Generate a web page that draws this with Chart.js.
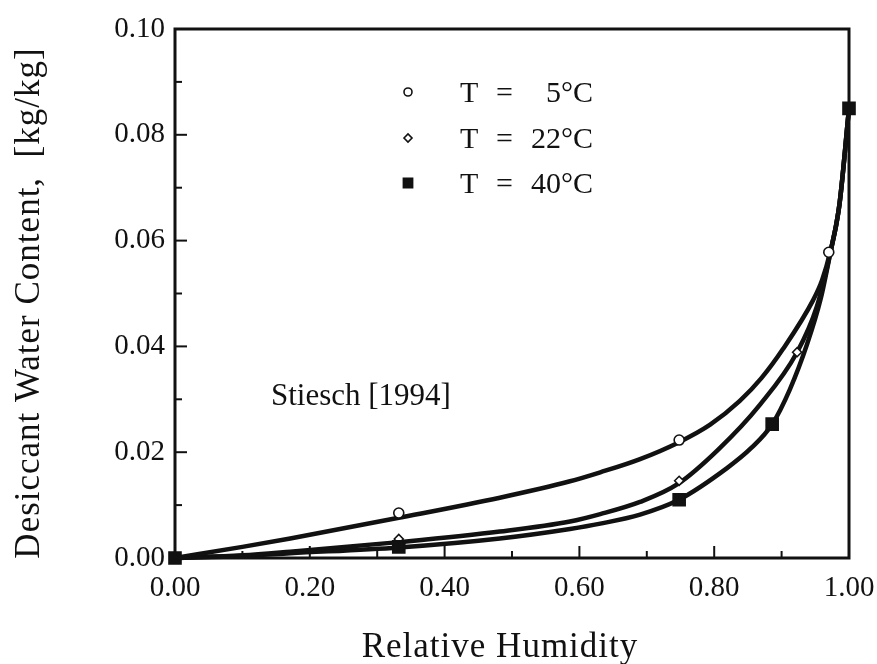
<!DOCTYPE html>
<html>
<head>
<meta charset="utf-8">
<script src="https://cdn.jsdelivr.net/npm/chart.js@4.4.0/dist/chart.umd.min.js"></script>
<style>
  html, body { margin: 0; background: #fff; }
</style>
</head>
<body>
<canvas id="isotherm" width="877" height="664"></canvas>
<script>
// ── measured points (relative humidity / water content kg/kg) ──
const rh5  = [0, 0.332, 0.748, 0.970, 1.0];
const wc5  = [0, 0.0085, 0.0223, 0.0578, 0.085];
const rh22 = [0, 0.332, 0.748, 0.923, 1.0];
const wc22 = [0, 0.0036, 0.0146, 0.0389, 0.085];
const rh40 = [0, 0.332, 0.748, 0.886, 1.0];
const wc40 = [0, 0.0021, 0.0110, 0.0253, 0.085];

// ── fitted isotherm curves ──
const fitRh5  = [0, 0.10, 0.171, 0.332, 0.482, 0.586, 0.631, 0.69, 0.748, 0.794, 0.838, 0.87, 0.902, 0.947, 0.96, 0.972, 0.985, 1.0];
const fitWc5  = [0, 0.0021, 0.0037, 0.0076, 0.0114, 0.0145, 0.0162, 0.0187, 0.0219, 0.0252, 0.0297, 0.0340, 0.0395, 0.0488, 0.0525, 0.0578, 0.0660, 0.085];
const fitRh22 = [0, 0.10, 0.171, 0.332, 0.482, 0.586, 0.631, 0.69, 0.745, 0.806, 0.868, 0.923, 0.952, 0.972, 0.986, 1.0];
const fitWc22 = [0, 0.0005, 0.0012, 0.0030, 0.0050, 0.0069, 0.0083, 0.0106, 0.0139, 0.0205, 0.0290, 0.0389, 0.0474, 0.0575, 0.0670, 0.085];
const fitRh40 = [0, 0.10, 0.171, 0.332, 0.482, 0.586, 0.631, 0.69, 0.746, 0.819, 0.855, 0.886, 0.912, 0.938, 0.958, 0.972, 0.986, 1.0];
const fitWc40 = [0, 0.0004, 0.0009, 0.0020, 0.0037, 0.0055, 0.0065, 0.0082, 0.0109, 0.0170, 0.0208, 0.0253, 0.0318, 0.0405, 0.0490, 0.0575, 0.0670, 0.085];

// ── text ──
const legendLabels = ['5°C', '22°C', '40°C'];
const legendStyles = ['circle', 'rectRot', 'rect'];
const sourceNote = 'Stiesch [1994]';
const xTitle = 'Relative Humidity';
const yTitle = 'Desiccant Water Content,  [kg/kg]';

const INK = '#111';
const FONT = '"Liberation Serif", "Times New Roman", serif';

const pairs = (xs, ys) => xs.map((x, i) => ({ x, y: ys[i] }));

function curve(xs, ys) {
  return {
    data: pairs(xs, ys),
    showLine: true,
    borderColor: INK,
    borderWidth: 4.5,
    pointRadius: 0,
    cubicInterpolationMode: 'monotone',
    clip: false,
    order: 10
  };
}

// lower order is painted last, so squares end up on top
function markers(xs, ys, style, radius, fill, order) {
  return {
    data: pairs(xs, ys),
    showLine: false,
    pointStyle: style,
    pointRadius: radius,
    pointBackgroundColor: fill,
    pointBorderColor: INK,
    pointBorderWidth: 1.6,
    clip: false,
    order
  };
}

// frame and inward tick marks on the left/bottom axes
const frame = {
  id: 'frame',
  afterDatasetsDraw(chart) {
    const { ctx, chartArea: a, scales: { x, y } } = chart;
    ctx.save();
    ctx.strokeStyle = INK;
    ctx.lineWidth = 2;
    for (let i = 1; i < 10; i++) {
      const py = y.getPixelForValue(i * 0.01);
      const len = i % 2 === 0 ? 12 : 7;
      ctx.beginPath(); ctx.moveTo(a.left, py); ctx.lineTo(a.left + len, py); ctx.stroke();
      const px = x.getPixelForValue(i * 0.1);
      ctx.beginPath(); ctx.moveTo(px, a.bottom); ctx.lineTo(px, a.bottom - len); ctx.stroke();
    }
    ctx.lineWidth = 3;
    ctx.strokeRect(a.left, a.top, a.right - a.left, a.bottom - a.top);
    ctx.restore();
  }
};

// symbol key, source note and axis titles
const key = {
  id: 'key',
  afterDraw(chart) {
    const { ctx } = chart;
    const rowY = [92, 138, 183];
    ctx.save();
    ctx.font = '30px ' + FONT;
    ctx.textBaseline = 'middle';
    legendLabels.forEach((lab, i) => {
      const filled = legendStyles[i] === 'rect';
      ctx.strokeStyle = INK;
      ctx.lineWidth = 1.6;
      ctx.fillStyle = filled ? INK : '#fff';
      Chart.helpers.drawPoint(ctx, {
        pointStyle: legendStyles[i],
        radius: filled ? 6.5 : 4,
        borderWidth: 1.6
      }, 408, rowY[i]);
      ctx.fillStyle = INK;
      ctx.textAlign = 'left';
      ctx.fillText('T', 460, rowY[i] + 2);
      ctx.fillText('=', 496, rowY[i] + 2);
      ctx.textAlign = 'right';
      ctx.fillText(lab, 593, rowY[i] + 2);
    });
    ctx.textAlign = 'left';
    ctx.font = '31px ' + FONT;
    ctx.fillText(sourceNote, 271, 397);

    // axis titles
    ctx.font = '35px ' + FONT;
    ctx.letterSpacing = '1px';
    ctx.textAlign = 'center';
    ctx.fillText(xTitle, 500, 648);
    ctx.translate(30, 303);
    ctx.rotate(-Math.PI / 2);
    ctx.fillText(yTitle, 0, 0);
    ctx.restore();
  }
};

new Chart(document.getElementById('isotherm'), {
  type: 'scatter',
  data: {
    datasets: [
      curve(fitRh5, fitWc5),
      curve(fitRh22, fitWc22),
      curve(fitRh40, fitWc40),
      markers(rh5, wc5, 'circle', 5, '#fff', 3),
      markers(rh22, wc22, 'rectRot', 4.5, '#fff', 2),
      markers(rh40, wc40, 'rect', 8.5, INK, 1)
    ]
  },
  options: {
    responsive: false,
    animation: false,
    layout: { padding: { top: 29, right: 28, left: 0, bottom: 0 } },
    plugins: { legend: { display: false }, tooltip: { enabled: false } },
    scales: {
      x: {
        type: 'linear',
        min: 0, max: 1,
        afterFit: s => { s.height = 106; s.paddingLeft = 0; s.paddingRight = 0; },
        grid: { display: false, drawTicks: false },
        border: { display: false },
        ticks: {
          stepSize: 0.2,
          padding: 13,
          color: INK,
          font: { family: FONT, size: 29 },
          callback: v => v.toFixed(2)
        }
      },
      y: {
        type: 'linear',
        min: 0, max: 0.1,
        afterFit: s => { s.width = 175; },
        grid: { display: false, drawTicks: false },
        border: { display: false },
        ticks: {
          stepSize: 0.02,
          padding: 10,
          color: INK,
          font: { family: FONT, size: 29 },
          callback: v => v.toFixed(2)
        }
      }
    }
  },
  plugins: [frame, key]
});
</script>
</body>
</html>
